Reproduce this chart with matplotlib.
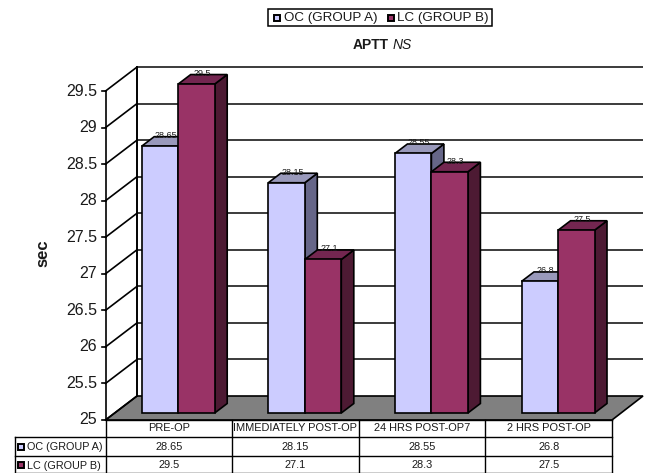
import matplotlib
matplotlib.use("Agg")
import matplotlib.pyplot as plt
from matplotlib.patches import Polygon, Rectangle

plt.rcParams['font.family'] = ['Liberation Sans', 'DejaVu Sans']

categories = ["PRE-OP", "IMMEDIATELY POST-OP", "24 HRS POST-OP7", "2 HRS POST-OP"]
series_names = ["OC (GROUP A)", "LC (GROUP B)"]
oc_values = [28.65, 28.15, 28.55, 26.8]
lc_values = [29.5, 27.1, 28.3, 27.5]
oc_labels = ["28.65", "28.15", "28.55", "26.8"]
lc_labels = ["29.5", "27.1", "28.3", "27.5"]
y_ticks = [25, 25.5, 26, 26.5, 27, 27.5, 28, 28.5, 29, 29.5]
y_tick_labels = ["25", "25.5", "26", "26.5", "27", "27.5", "28", "28.5", "29", "29.5"]

W, H = 645, 473
PX_PER_UNIT = 73.1
BASE_BAR = 413.0     # pixel row of the value 25 at the bars' front face
BASE_FRONT = 420.0   # same, at the front of the floor
BASE_BACK = 396.0    # same, at the back wall

fig = plt.figure(figsize=(W / 100, H / 100), dpi=100)
ax = fig.add_axes([0, 0, 1, 1])
ax.set_xlim(0, W)
ax.set_ylim(25 - (H - BASE_BAR) / PX_PER_UNIT, 25 + BASE_BAR / PX_PER_UNIT)
ax.axis("off")


def vy(row):
    """Pixel row -> value on the bar scale."""
    return 25 + (BASE_BAR - row) / PX_PER_UNIT


def at(base, value):
    """Value read on a plane whose 25 sits at pixel row `base`."""
    return vy(base - (value - 25) * PX_PER_UNIT)


LEFT_FRONT, LEFT_BACK, RIGHT_FRONT, RIGHT_BACK = 105.5, 137, 612, 643
LW = 1.2
INK = "#000000"
TEXT = "#1a1a1a"

# floor
ax.add_patch(Polygon([(LEFT_FRONT, vy(BASE_FRONT)), (RIGHT_FRONT, vy(BASE_FRONT)),
                      (RIGHT_BACK, vy(BASE_BACK)), (LEFT_BACK, vy(BASE_BACK))],
                     facecolor="#808080", edgecolor=INK, lw=LW, zorder=1))

# gridlines on back wall and left wall, ticks and labels
for t, lab in zip(y_ticks, y_tick_labels):
    yb, yf = at(BASE_BACK, t), at(BASE_FRONT, t)
    if t > 25:
        ax.plot([LEFT_BACK, RIGHT_BACK], [yb, yb], color="#1a1a1a", lw=LW, zorder=1, solid_capstyle="butt")
    ax.plot([LEFT_FRONT, LEFT_BACK], [yf, yb], color=INK, lw=LW, zorder=1)
    ax.plot([LEFT_FRONT - 4, LEFT_FRONT], [yf, yf], color=INK, lw=LW, zorder=1)
    ax.text(97, yf, lab, ha="right", va="center", fontsize=11.5, color=TEXT)

# wall verticals
top = at(BASE_BACK, y_ticks[-1])
ax.plot([LEFT_BACK, LEFT_BACK], [vy(BASE_BACK), top], color=INK, lw=1.4, zorder=1)
ax.plot([LEFT_FRONT, LEFT_FRONT], [vy(BASE_FRONT), at(BASE_FRONT, y_ticks[-1])], color=INK, lw=LW, zorder=1)

# bars
GROUP_X0, GROUP_STEP, BAR_W = 141.7, 126.6, 36.5
DX, DY = 12.5, 9.5 / PX_PER_UNIT
styles = [("#CCCCFF", "#666688", "#9999BB"), ("#993366", "#4D1A33", "#732650")]

for s, (values, labels) in enumerate([(oc_values, oc_labels), (lc_values, lc_labels)]):
    front, side, cap = styles[s]
    for i, (v, lab) in enumerate(zip(values, labels)):
        x0 = GROUP_X0 + i * GROUP_STEP + s * BAR_W
        x1 = x0 + BAR_W
        ax.add_patch(Polygon([(x1, 25), (x1 + DX, 25 + DY), (x1 + DX, v + DY), (x1, v)],
                             facecolor=side, edgecolor=INK, lw=LW, zorder=3 + s + i * 3, joinstyle="miter"))
        ax.add_patch(Polygon([(x0, v), (x0 + DX, v + DY), (x1 + DX, v + DY), (x1, v)],
                             facecolor=cap, edgecolor=INK, lw=LW, zorder=3 + s + i * 3, joinstyle="miter"))
        ax.bar(x0, v - 25, BAR_W, bottom=25, align="edge", facecolor=front, edgecolor=INK,
               lw=LW, zorder=3 + s + i * 3)
        ax.text((x0 + x1) / 2 + 6, v + 10.5 / PX_PER_UNIT, lab, ha="center", va="center",
                fontsize=6.5, color=TEXT, zorder=30)

# data table
cols = [LEFT_FRONT + k * (RIGHT_FRONT - LEFT_FRONT) / 4 for k in range(5)]
rows = [419.8, 437, 455.7, 472.5]
TABLE_LEFT = 15.3
for k, r in enumerate(rows):
    ax.plot([LEFT_FRONT if k == 0 else TABLE_LEFT, RIGHT_FRONT], [vy(r), vy(r)], color=INK, lw=1.0, zorder=5)
for c in cols:
    ax.plot([c, c], [vy(rows[0]), vy(rows[-1])], color=INK, lw=1.0, zorder=5)
ax.plot([TABLE_LEFT, TABLE_LEFT], [vy(rows[1]), vy(rows[-1])], color=INK, lw=1.0, zorder=5)

TXT = dict(ha="center", va="center", fontsize=7.9, color=TEXT)
for i, c in enumerate(categories):
    ax.text((cols[i] + cols[i + 1]) / 2, vy(428.3), c, **TXT)
for j, (labels, row) in enumerate(zip([oc_labels, lc_labels], [446.8, 465])):
    for i, lab in enumerate(labels):
        ax.text((cols[i] + cols[i + 1]) / 2, vy(row), lab, **TXT)
    ax.add_patch(Rectangle((18, vy(row + 3)), 6, 6 / PX_PER_UNIT, facecolor=styles[j][0],
                           edgecolor=INK, lw=1.4, zorder=6))
    ax.text(27, vy(row + 0.5), series_names[j], ha="left", va="center", fontsize=7.8, color=TEXT)

# legend
ax.add_patch(Rectangle((268, vy(26.5)), 224, 17.5 / PX_PER_UNIT, facecolor="white", edgecolor=INK, lw=1.1, zorder=6))
for j, (kx, tx) in enumerate([(274, 284), (388, 397)]):
    ax.add_patch(Rectangle((kx, vy(20.5)), 6, 6 / PX_PER_UNIT, facecolor=styles[j][0],
                           edgecolor=INK, lw=1.4, zorder=7))
    ax.text(tx, vy(17.8), series_names[j], ha="left", va="center", fontsize=9.6, color=TEXT, zorder=7)

# titles
ax.text(388.5, vy(45.5), "APTT", ha="right", va="center", fontsize=10, fontweight="bold", color=TEXT)
ax.text(393, vy(45.5), "NS", ha="left", va="center", fontsize=10, fontstyle="italic", color=TEXT)
ax.text(43, vy(253), "sec", rotation=90, ha="center", va="center", fontsize=12, fontweight="bold", color=TEXT)

fig.savefig("out.png", dpi=100)
